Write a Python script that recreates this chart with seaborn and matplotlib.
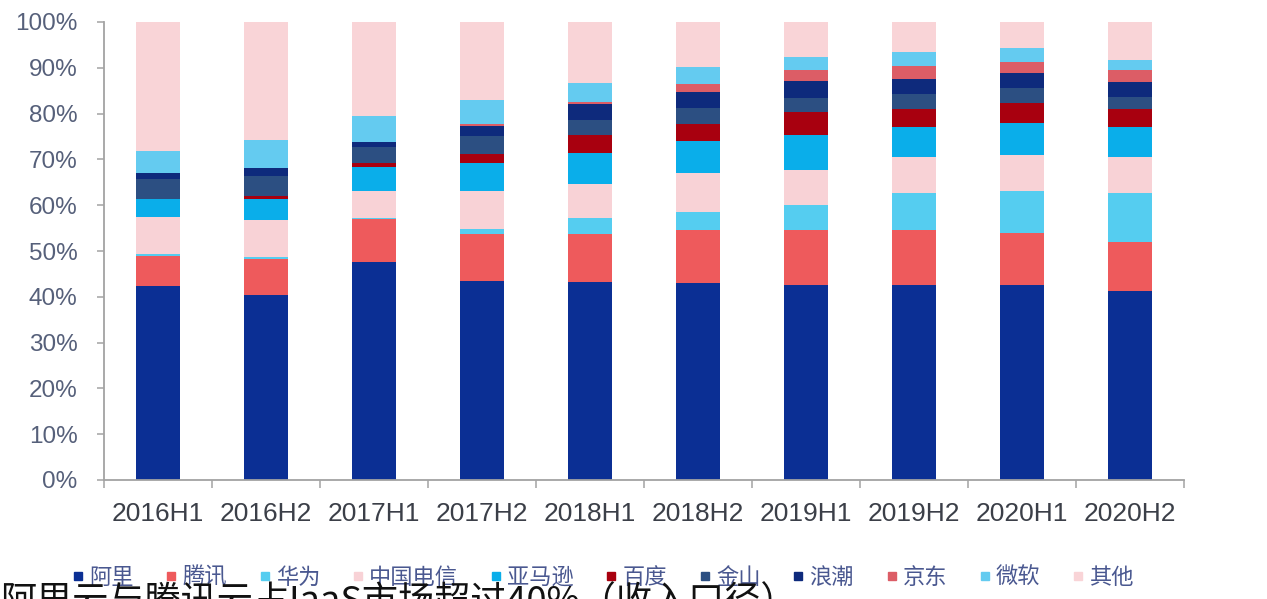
import matplotlib
matplotlib.use("Agg")
import matplotlib.pyplot as plt
from matplotlib.lines import Line2D
import seaborn as sns
import numpy as np
import pandas as pd

periods = ["2016H1", "2016H2", "2017H1", "2017H2", "2018H1",
           "2018H2", "2019H1", "2019H2", "2020H1", "2020H2"]
series_names = ["阿里", "腾讯", "华为", "中国电信", "亚马逊", "百度",
                "金山", "浪潮", "京东", "微软", "其他"]

ali      = [42.3, 40.3, 47.5, 43.5, 43.2, 43.0, 42.5, 42.5, 42.5, 41.3]
tencent  = [6.6, 7.9, 9.5, 10.2, 10.6, 11.5, 12.0, 12.1, 11.5, 10.7]
huawei   = [0.5, 0.5, 0.3, 1.0, 3.3, 4.0, 5.5, 8.1, 9.0, 10.7]
telecom  = [8.0, 8.0, 5.9, 8.3, 7.5, 8.6, 7.6, 7.8, 8.0, 7.8]
amazon   = [4.0, 4.6, 5.2, 6.2, 6.8, 6.9, 7.8, 6.5, 7.0, 6.5]
baidu    = [0.0, 0.6, 0.8, 2.0, 4.0, 3.8, 4.9, 4.0, 4.3, 3.9]
kingsoft = [4.4, 4.5, 3.4, 4.0, 3.3, 3.4, 3.0, 3.3, 3.3, 2.8]
inspur   = [1.2, 1.8, 1.2, 2.0, 3.5, 3.6, 3.9, 3.3, 3.3, 3.1]
jd       = [0.0, 0.0, 0.0, 0.5, 0.4, 1.7, 2.3, 2.9, 2.4, 2.8]
msft     = [4.8, 6.0, 5.6, 5.3, 4.0, 3.7, 2.9, 3.0, 3.0, 2.2]
others   = [28.2, 25.8, 20.6, 17.0, 13.4, 9.8, 7.6, 6.5, 5.7, 8.2]

colors = ["#0b2f94", "#ee5a5c", "#55cdf0", "#f8d2d6", "#0aaeea", "#a8000f",
          "#2c4f82", "#0e2a7c", "#dc5d66", "#64cbf0", "#f9d4d7"]

series = [ali, tencent, huawei, telecom, amazon, baidu,
          kingsoft, inspur, jd, msft, others]

df = pd.DataFrame({name: vals for name, vals in zip(series_names, series)},
                  index=periods)
cum = df.cumsum(axis=1)

sns.set_theme(style="white")
plt.rcParams['font.family'] = ['Liberation Sans', 'Noto Sans CJK SC', 'DejaVu Sans']

fig = plt.figure(figsize=(12.67, 5.99), dpi=100)
ax = fig.add_axes([104/1267, 119/599, 1080/1267, 458/599])

# draw cumulative bars from the top series downward so lower series overlay
for name, col in reversed(list(zip(series_names, colors))):
    sns.barplot(x=periods, y=cum[name].values, color=col, saturation=1,
                width=0.41, linewidth=0, edgecolor="none", ax=ax)

ax.set_ylim(0, 100)
ax.set_xlim(-0.5, len(periods) - 0.5)
ax.set_yticks(np.arange(0, 101, 10))
ax.set_yticklabels([f"{v}%" for v in range(0, 101, 10)])
ax.set_xticks(range(len(periods)))
ax.set_xticklabels(periods)
ax.set_xticks(np.arange(-0.5, len(periods), 1.0), minor=True)

for s in ["top", "right"]:
    ax.spines[s].set_visible(False)
for s in ["left", "bottom"]:
    ax.spines[s].set_color("#a3a3a3")
    ax.spines[s].set_linewidth(1.3)

ax.tick_params(axis="y", which="major", direction="out", length=5, width=1.1,
               color="#a3a3a3", pad=14, labelsize=17.5, labelcolor="#56607a", left=True)
ax.tick_params(axis="x", which="major", length=0, pad=16, labelsize=19,
               labelcolor="#3b3f48")
ax.tick_params(axis="x", which="minor", direction="out", length=6, width=1.1,
               color="#a3a3a3", bottom=True)
ax.set_xlabel("")
ax.set_ylabel("")

handles = [Line2D([0], [0], marker="s", linestyle="", markersize=6,
                  markerfacecolor=c, markeredgecolor=c) for c in colors]
leg = fig.legend(handles, series_names, loc="center", ncol=len(series_names),
                 bbox_to_anchor=(0.476, 0.036), frameon=False,
                 handlelength=0.5, handletextpad=0.25, columnspacing=1.45,
                 prop={"family": "Noto Sans CJK SC", "size": 16})
for t in leg.get_texts():
    t.set_color("#4a5890")

fig.text(0.0, 0.025, "阿里云与腾讯云占IaaS市场超过40%（收入口径）",
         ha="left", va="top", fontsize=26, color="#111111",
         family=["Noto Sans CJK SC", "DejaVu Sans"], zorder=10)

fig.savefig("out.png", dpi=100, facecolor="white")
